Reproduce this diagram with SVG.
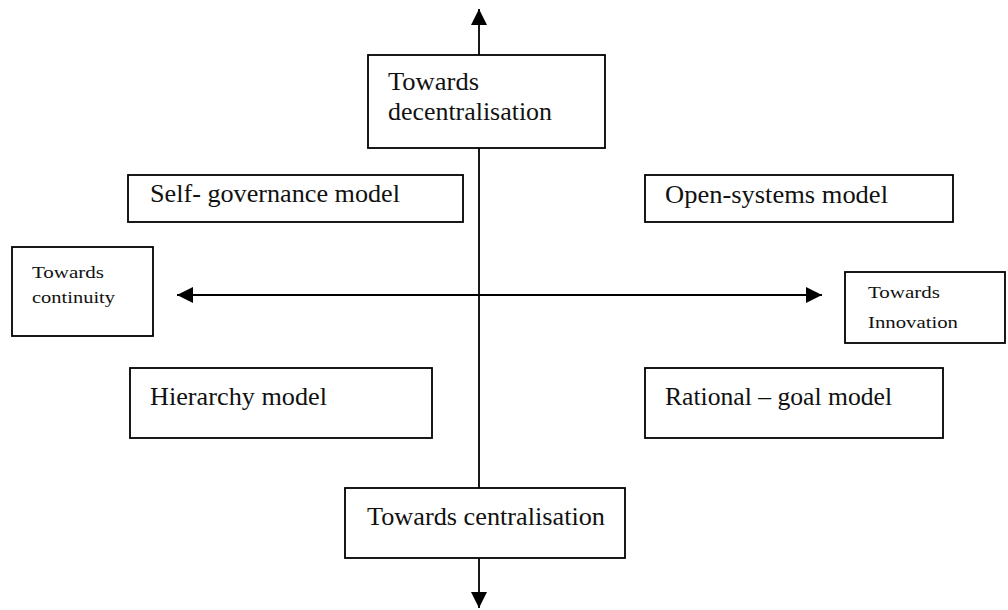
<svg xmlns="http://www.w3.org/2000/svg" width="1008" height="610" viewBox="0 0 1008 610">
<defs>
<style>
.box{fill:#fff;stroke:#000;stroke-width:1.8}
.big{font-family:"Liberation Serif","Times New Roman",serif;font-size:25px;fill:#111}
.small{font-family:"Liberation Serif","Times New Roman",serif;font-size:17px;fill:#111}
.conn{stroke:#000;stroke-width:1.8;fill:none}
</style>
<marker id="ah" viewBox="0 0 16 16" refX="16" refY="8" markerWidth="16" markerHeight="16" markerUnits="userSpaceOnUse" orient="auto">
<path d="M0,0 L16,8 L0,16 Z" fill="#000"/>
</marker>
</defs>
<rect width="1008" height="610" fill="#fff"/>
<g id="connectors">
<line class="conn" x1="479" y1="55" x2="479" y2="9" marker-end="url(#ah)"/>
<line class="conn" x1="479" y1="148" x2="479" y2="488"/>
<line class="conn" x1="479" y1="558" x2="479" y2="608" marker-end="url(#ah)"/>
<line class="conn" x1="479" y1="295" x2="177" y2="295" marker-end="url(#ah)"/>
<line class="conn" x1="479" y1="295" x2="822" y2="295" marker-end="url(#ah)"/>
</g>
<g id="decentralisation">
<rect class="box" x="368" y="55" width="237" height="93"/>
<text class="big" x="388" y="90" textLength="91" lengthAdjust="spacingAndGlyphs">Towards</text>
<text class="big" x="388" y="120" textLength="164" lengthAdjust="spacingAndGlyphs">decentralisation</text>
</g>
<g id="self-governance">
<rect class="box" x="128" y="175" width="335" height="47"/>
<text class="big" x="150" y="202" textLength="250" lengthAdjust="spacingAndGlyphs">Self- governance model</text>
</g>
<g id="open-systems">
<rect class="box" x="645" y="175" width="308" height="47"/>
<text class="big" x="665" y="203" textLength="223" lengthAdjust="spacingAndGlyphs">Open-systems model</text>
</g>
<g id="continuity">
<rect class="box" x="12" y="247" width="141" height="89"/>
<text class="small" x="32" y="278" textLength="72" lengthAdjust="spacingAndGlyphs">Towards</text>
<text class="small" x="32" y="303" textLength="83" lengthAdjust="spacingAndGlyphs">continuity</text>
</g>
<g id="innovation">
<rect class="box" x="845" y="272" width="160" height="71"/>
<text class="small" x="868" y="298" textLength="72" lengthAdjust="spacingAndGlyphs">Towards</text>
<text class="small" x="868" y="328" textLength="90" lengthAdjust="spacingAndGlyphs">Innovation</text>
</g>
<g id="hierarchy">
<rect class="box" x="130" y="368" width="302" height="70"/>
<text class="big" x="150" y="405" textLength="177" lengthAdjust="spacingAndGlyphs">Hierarchy model</text>
</g>
<g id="rational-goal">
<rect class="box" x="645" y="368" width="298" height="70"/>
<text class="big" x="665" y="405" textLength="227" lengthAdjust="spacingAndGlyphs">Rational – goal model</text>
</g>
<g id="centralisation">
<rect class="box" x="345" y="488" width="280" height="70"/>
<text class="big" x="367" y="525" textLength="238" lengthAdjust="spacingAndGlyphs">Towards centralisation</text>
</g>
</svg>
